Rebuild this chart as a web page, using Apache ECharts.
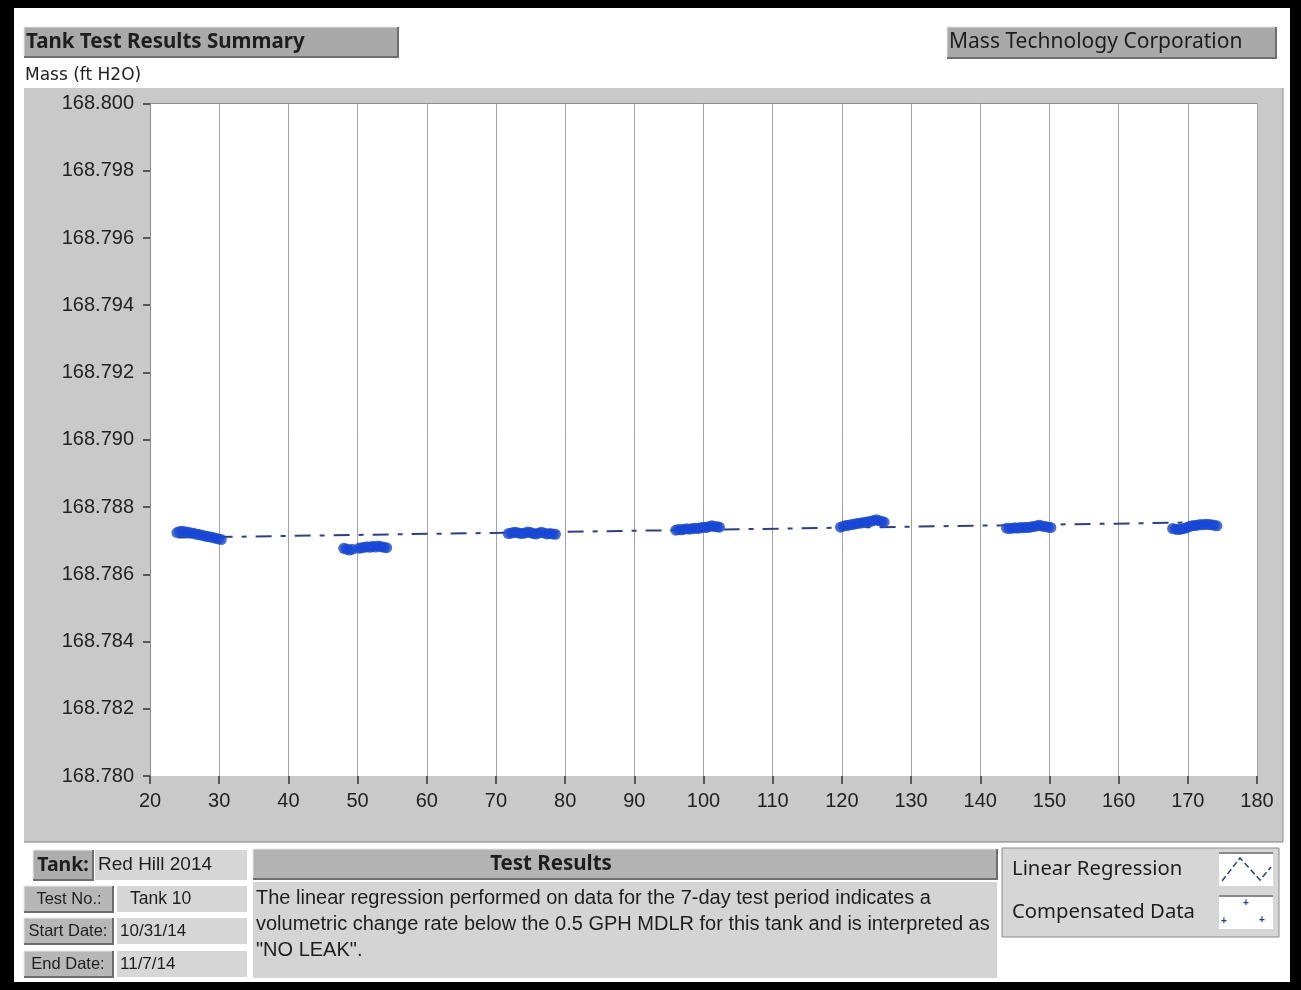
<!DOCTYPE html>
<html>
<head>
<meta charset="utf-8">
<script src="https://cdn.jsdelivr.net/npm/echarts@6/dist/echarts.min.js"></script>
<style>
html,body{margin:0;padding:0;background:#000;}
#c{width:1301px;height:990px;}
</style>
</head>
<body>
<div id="c"></div>
<script>
// ---- data ----
const xTicks = [20,30,40,50,60,70,80,90,100,110,120,130,140,150,160,170,180];
const yTicks = [168.780,168.782,168.784,168.786,168.788,168.790,168.792,168.794,168.796,168.798,168.800];

const day1 = [[23.9,168.78724],[24.3,168.78727],[24.7,168.78728],[25.1,168.78726],[25.5,168.78725],[25.9,168.78723],[26.3,168.78722],[26.7,168.78719],[27.1,168.78718],[27.5,168.78716],[27.9,168.78714],[28.3,168.78712],[28.7,168.78711],[29.1,168.78709],[29.5,168.78707],[29.9,168.78705],[30.3,168.78703]];
const day2 = [[48.0,168.78677],[48.4,168.78675],[48.8,168.78672],[49.2,168.78674],[50.2,168.78677],[50.6,168.78679],[51.0,168.7868],[51.4,168.78682],[51.8,168.7868],[52.2,168.78683],[52.6,168.78681],[53.0,168.78684],[53.4,168.78682],[53.8,168.7868],[54.2,168.78679]];
const day3 = [[71.8,168.78721],[72.2,168.78722],[72.6,168.78725],[73.0,168.78724],[73.4,168.78722],[73.8,168.78721],[74.2,168.78723],[74.6,168.78726],[75.0,168.78724],[75.4,168.78721],[75.8,168.7872],[76.2,168.78723],[76.6,168.78725],[77.0,168.78722],[77.4,168.7872],[77.8,168.78721],[78.2,168.7872],[78.6,168.78719]];
const day4 = [[96.0,168.78731],[96.4,168.78733],[96.8,168.78732],[97.2,168.78734],[97.6,168.78735],[98.0,168.78734],[98.4,168.78736],[98.8,168.78737],[99.2,168.78736],[99.6,168.78738],[100.0,168.7874],[100.4,168.78739],[100.8,168.78742],[101.2,168.78744],[101.6,168.78742],[102.0,168.78741],[102.3,168.7874]];
const day5 = [[119.8,168.7874],[120.2,168.78743],[120.6,168.78745],[121.0,168.78746],[121.4,168.78748],[121.8,168.78749],[122.2,168.78751],[122.6,168.78752],[123.0,168.78753],[123.4,168.78755],[123.8,168.78756],[124.2,168.78757],[124.6,168.7876],[125.0,168.78762],[125.4,168.78759],[125.8,168.78757],[126.1,168.78755]];
const day6 = [[143.8,168.78737],[144.2,168.78736],[144.6,168.78737],[145.0,168.78738],[145.4,168.78737],[145.8,168.78739],[146.2,168.78738],[146.6,168.7874],[147.0,168.78739],[147.4,168.78741],[147.8,168.78742],[148.2,168.78744],[148.6,168.78746],[149.0,168.78743],[149.4,168.78742],[149.8,168.7874],[150.2,168.78739]];
const day7 = [[167.8,168.78736],[168.2,168.78734],[168.6,168.78733],[169.0,168.78734],[169.4,168.78736],[169.8,168.78738],[170.2,168.78742],[170.6,168.78744],[171.0,168.78745],[171.4,168.78746],[171.8,168.78748],[172.2,168.78747],[172.6,168.78749],[173.0,168.78748],[173.4,168.78747],[173.8,168.78746],[174.2,168.78744]];
const regression = [[24,168.78709],[174,168.78755]];

const reportText = [
  'The linear regression performed on data for the 7-day test period indicates a',
  'volumetric change rate below the 0.5 GPH MDLR for this tank and is interpreted as',
  '"NO LEAK".'
];

// ---- chart ----
const chart = echarts.init(document.getElementById('c'));
const compensated = [].concat(day1, day2, day3, day4, day5, day6, day7);
const sansUI = '"Noto Sans", "Open Sans", sans-serif';
const arial = '"Liberation Sans", Arial, sans-serif';
const wide = '"DejaVu Sans", Verdana, sans-serif';

function boxRect(x, y, w, h, fill, z) {
  return { type: 'rect', z: z || -5, silent: true, shape: { x: x, y: y, width: w, height: h },
    style: { fill: fill, stroke: null } };
}
function bevel(x, y, w, h, fill) {
  return [
    boxRect(x, y, w, h, fill),
    { type: 'polyline', z: -4, silent: true, shape: { points: [[x, y + h], [x, y], [x + w, y]] }, style: { stroke: '#e8e8e8', lineWidth: 1, fill: null } },
    { type: 'polyline', z: -4, silent: true, shape: { points: [[x + w, y], [x + w, y + h], [x, y + h]] }, style: { stroke: '#6e6e6e', lineWidth: 2, fill: null } }
  ];
}
function txt(x, y, s, font, size, weight, align, color) {
  return { type: 'text', z: 5, silent: true, x: x, y: y,
    style: { text: s, fontFamily: font, fontSize: size, fontWeight: weight || 'normal',
      fill: color || '#1e1e1e', align: align || 'left', verticalAlign: 'middle' } };
}

const graphics = [].concat(
  [boxRect(14, 8, 1276, 974, '#ffffff', -20)],
  [boxRect(24, 88, 1259, 754, '#c9c9c9', -10),
   { type: 'line', z: -9, silent: true, shape: { x1: 24, y1: 842, x2: 1283, y2: 842 }, style: { stroke: '#7a7a7a', lineWidth: 1 } },
   { type: 'line', z: -9, silent: true, shape: { x1: 1283, y1: 88, x2: 1283, y2: 842 }, style: { stroke: '#8a8a8a', lineWidth: 1 } }],
  bevel(24, 27, 374, 30, '#a9a9a9'),
  [txt(26, 42, 'Tank Test Results Summary', sansUI, 20.5, 'bold')],
  bevel(947, 27, 329, 31, '#a9a9a9'),
  [txt(949, 42, 'Mass Technology Corporation', sansUI, 21, 'normal')],
  [txt(25, 76, 'Mass (ft H2O)', wide, 17, 'normal')],
  bevel(33, 850, 60, 30, '#adadad'),
  [txt(63, 865, 'Tank:', sansUI, 19.5, 'bold', 'center')],
  [boxRect(95, 850, 152, 30, '#d6d6d6')],
  [txt(98, 865, 'Red Hill 2014', arial, 19, 'normal')],
  bevel(24, 886, 89, 26, '#b7b7b7'),
  [txt(69, 899, 'Test No.:', arial, 16.5, 'normal', 'center')],
  [boxRect(117, 886, 130, 26, '#d6d6d6')],
  [txt(130, 899, 'Tank 10', arial, 17.5, 'normal')],
  bevel(24, 918, 89, 26, '#b7b7b7'),
  [txt(68, 931, 'Start Date:', arial, 16.5, 'normal', 'center')],
  [boxRect(117, 918, 130, 26, '#d6d6d6')],
  [txt(120, 931, '10/31/14', arial, 17, 'normal')],
  bevel(24, 951, 89, 26, '#b7b7b7'),
  [txt(68, 964, 'End Date:', arial, 16.5, 'normal', 'center')],
  [boxRect(117, 951, 130, 26, '#d6d6d6')],
  [txt(120, 964, '11/7/14', arial, 17, 'normal')],
  bevel(253, 849, 744, 30, '#b3b3b3'),
  [txt(551, 864, 'Test Results', sansUI, 20.5, 'bold', 'center')],
  [boxRect(253, 882, 744, 96, '#d4d4d4')],
  reportText.map((s, i) => txt(256, 898 + i * 26, s, arial, 20, 'normal')),
  [boxRect(1002, 848, 277, 89, '#d6d6d6'),
   { type: 'rect', z: -4, silent: true, shape: { x: 1002, y: 848, width: 277, height: 89 }, style: { fill: null, stroke: '#8a8a8a', lineWidth: 1 } }],
  [txt(1012, 869, 'Linear Regression', sansUI, 20.3, 'normal'),
   txt(1012, 912, 'Compensated Data', sansUI, 20.3, 'normal')],
  [boxRect(1219, 853, 54, 33, '#ffffff', -3), boxRect(1219, 896, 54, 33, '#ffffff', -3),
   { type: 'line', z: -2, silent: true, shape: { x1: 1219, y1: 853, x2: 1273, y2: 853 }, style: { stroke: '#8a8a8a', lineWidth: 2 } },
   { type: 'line', z: -2, silent: true, shape: { x1: 1219, y1: 896, x2: 1273, y2: 896 }, style: { stroke: '#8a8a8a', lineWidth: 2 } },
   { type: 'polyline', z: 2, silent: true, shape: { points: [[1222, 881], [1240, 858], [1260, 880], [1271, 867]] },
     style: { stroke: '#2c3f8c', lineWidth: 1.5, lineDash: [6, 3], fill: null } }],
  [[1246, 903], [1224, 921], [1262, 920]].map(p => ({ type: 'text', z: 2, silent: true, x: p[0], y: p[1],
    style: { text: '+', fontSize: 10, fontFamily: arial, fontWeight: 'bold', fill: '#1a3aa8', align: 'center', verticalAlign: 'middle' } }))
);

chart.setOption({
  backgroundColor: '#000000',
  animation: false,
  graphic: graphics,
  grid: { left: 150, right: 44, top: 103.5, bottom: 214, show: true, backgroundColor: '#ffffff', borderWidth: 0 },
  xAxis: [{
    type: 'value', min: 20, max: 180, interval: 10,
    axisLine: { show: false },
    axisTick: { show: true, length: 8, lineStyle: { color: '#333', width: 1.5 } },
    axisLabel: { margin: 15, fontFamily: arial, fontSize: 20, color: '#222' },
    splitLine: { show: true, lineStyle: { color: '#a3a3a3', width: 1 } }
  }, {
    type: 'value', min: 20, max: 180, position: 'top',
    axisLine: { show: true, lineStyle: { color: '#8c8c8c', width: 1 } },
    axisTick: { show: false }, axisLabel: { show: false }, splitLine: { show: false }
  }],
  yAxis: {
    type: 'value', min: 168.78, max: 168.8, interval: 0.002,
    axisLine: { show: true, lineStyle: { color: '#8c8c8c', width: 1 } },
    axisTick: { show: true, length: 7, lineStyle: { color: '#333', width: 1.5 } },
    axisLabel: { margin: 16, fontFamily: arial, fontSize: 20, color: '#222',
      formatter: v => Number(v).toFixed(3) },
    splitLine: { show: false }
  },
  series: [{
    name: 'Linear Regression', type: 'line', data: regression, symbol: 'none', z: 2,
    lineStyle: { color: '#2c3f8c', width: 2, type: [16, 9, 5, 9] }
  }, {
    name: 'Compensated Data', type: 'scatter', data: compensated, z: 3,
    symbol: 'circle', symbolSize: 11,
    itemStyle: { color: '#1747d6' }
  }]
});
</script>
</body>
</html>
